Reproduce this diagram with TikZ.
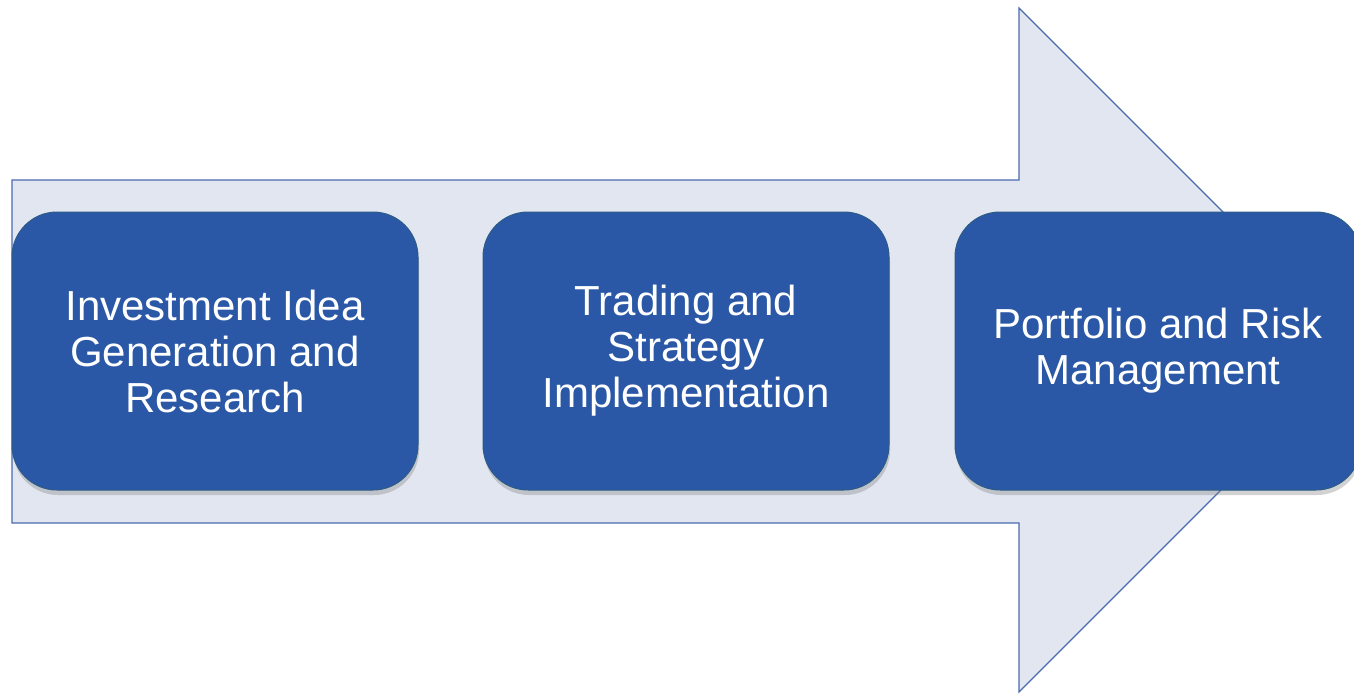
\documentclass[tikz,border=0pt]{standalone}
\usepackage{fontspec}
\setmainfont{Liberation Sans}
\usetikzlibrary{shadows}
\definecolor{arrowfill}{HTML}{E1E6F1}
\definecolor{arrowline}{HTML}{4A6BB0}
\definecolor{boxfill}{HTML}{2A58A6}
\definecolor{boxline}{HTML}{2B5C86}
\tikzset{
  stagebox/.style={draw=boxline, line width=1pt, fill=boxfill, rounded corners=45pt,
    minimum width=406pt, minimum height=278pt, inner sep=0pt,
    drop shadow={opacity=0.35, shadow xshift=1pt, shadow yshift=-5pt},
    text=white, align=center, font=\fontsize{42}{46}\selectfont},
  bigarrow/.style={draw=arrowline, line width=1.2pt, fill=arrowfill, line join=miter}
}
\begin{document}
\begin{tikzpicture}[x=1pt, y=-1pt]
\useasboundingbox (0,0) rectangle (1354,694);
\clip (0,0) rectangle (1354,694);
\fill[white] (0,0) rectangle (1354,694);
\draw[bigarrow] (12,180) -- (1019,180) -- (1019,8) -- (1361,350) -- (1019,692) -- (1019,523) -- (12,523) -- cycle;
\node[stagebox] (s1) at (215,351) {Investment Idea\\Generation and\\Research};
\node[stagebox] (s2) at (686,351) {Trading and\\Strategy\\Implementation};
\node[stagebox] (s3) at (1158,351) {Portfolio and Risk\\Management};
\end{tikzpicture}
\end{document}
